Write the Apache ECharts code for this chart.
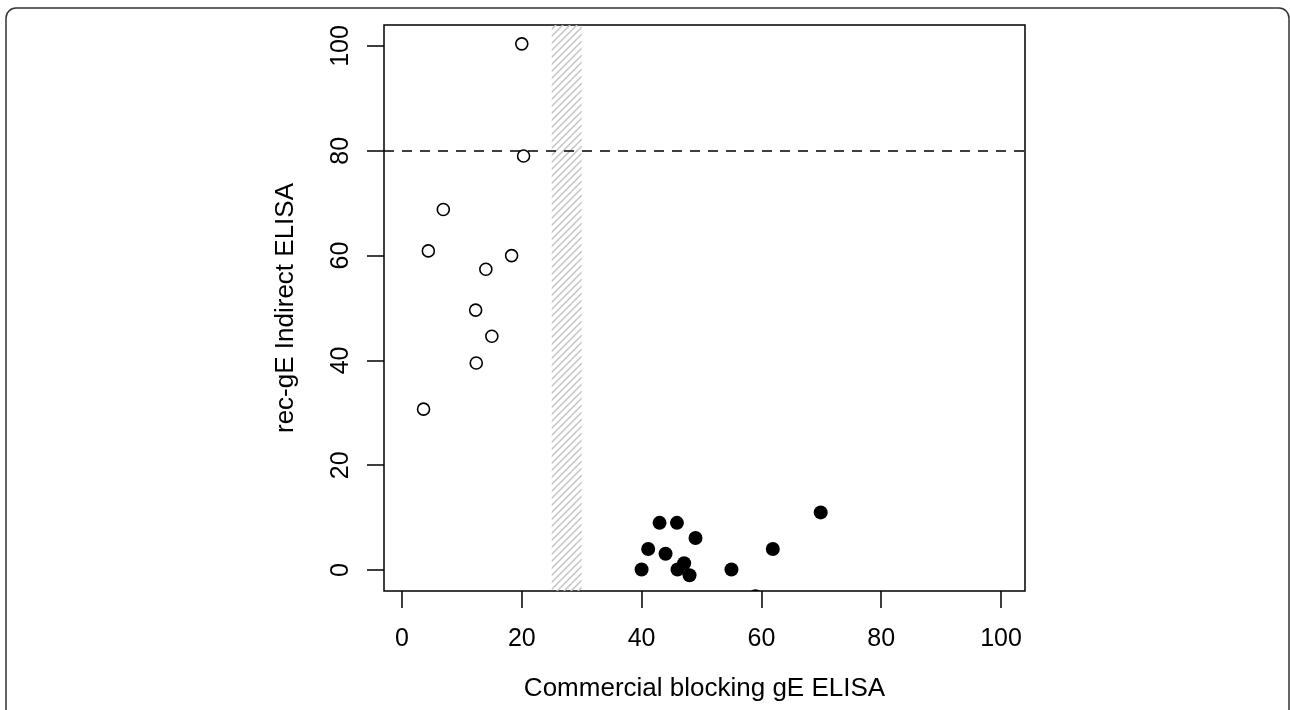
<!DOCTYPE html>
<html>
<head>
<meta charset="utf-8">
<script src="https://cdn.jsdelivr.net/npm/echarts@6/dist/echarts.min.js"></script>
<style>
  html, body { margin: 0; padding: 0; background: #fff; }
  #chart { width: 1290px; height: 710px; }
</style>
</head>
<body>
<div id="chart"></div>
<script>
// ---- data ----
const xTicks = [0, 20, 40, 60, 80, 100];
const yTicks = [0, 20, 40, 60, 80, 100];
const xTitle = 'Commercial blocking gE ELISA';
const yTitle = 'rec-gE Indirect ELISA';
// open circles (negative by blocking ELISA)
const openX = [20.0, 20.3, 6.9, 4.4, 18.3, 14.0, 12.3, 15.0, 12.4, 3.6];
const openY = [100.4, 79.0, 68.8, 60.9, 60.0, 57.4, 49.6, 44.6, 39.5, 30.7];
// filled circles
const filledX = [69.9, 43.0, 45.9, 49.0, 41.1, 44.0, 61.9, 40.0, 47.1, 46.0, 48.0, 55.0, 59.0];
const filledY = [11.0, 9.0, 9.0, 6.1, 4.0, 3.1, 4.0, 0.1, 1.3, 0.1, -1.0, 0.1, -5.0];
const cutoffY = 80;
const bandX = [25, 30];

const FONT = 'Liberation Sans, Arial, Helvetica, sans-serif';

// hatch pattern
const T = 7;
const pat = document.createElement('canvas');
pat.width = T; pat.height = T;
const pc = pat.getContext('2d');
pc.strokeStyle = '#c2c2c2';
pc.lineWidth = 1.4;
pc.beginPath();
pc.moveTo(-1, T + 1); pc.lineTo(T + 1, -1);
pc.moveTo(-1, 1); pc.lineTo(1, -1);
pc.moveTo(T - 1, T + 1); pc.lineTo(T + 1, T - 1);
pc.stroke();

const openData = openX.map((x, i) => [x, openY[i]]);
const filledData = filledX.map((x, i) => [x, filledY[i]]);

const chart = echarts.init(document.getElementById('chart'), null, { renderer: 'canvas', devicePixelRatio: 1 });
chart.setOption({
  animation: false,
  backgroundColor: '#fff',
  graphic: [{
    type: 'rect',
    silent: true,
    z: -10,
    shape: { x: 6, y: 8, width: 1283, height: 760, r: 10 },
    style: { fill: 'none', stroke: '#333', lineWidth: 1.5 }
  }],
  grid: {
    left: 384, right: 265, top: 25, bottom: 119,
    show: true, borderColor: '#000', borderWidth: 1.5, backgroundColor: 'transparent'
  },
  xAxis: {
    type: 'value', min: -3, max: 104,
    name: xTitle, nameLocation: 'middle', nameGap: 85,
    nameTextStyle: { fontFamily: FONT, fontSize: 26, color: '#000' },
    axisLine: { show: false, onZero: false },
    axisTick: { show: true, length: 17, customValues: xTicks, lineStyle: { color: '#000', width: 1.5 } },
    axisLabel: { customValues: xTicks, margin: 36, fontFamily: FONT, fontSize: 25, color: '#000' },
    splitLine: { show: false }
  },
  yAxis: {
    type: 'value', min: -4, max: 104,
    name: yTitle, nameLocation: 'middle', nameGap: 85, nameRotate: 90,
    nameTextStyle: { fontFamily: FONT, fontSize: 26, color: '#000' },
    axisLine: { show: false, onZero: false },
    axisTick: { show: true, length: 17, customValues: yTicks, lineStyle: { color: '#000', width: 1.5 } },
    axisLabel: { customValues: yTicks, rotate: 90, margin: 30, fontFamily: FONT, fontSize: 25, color: '#000' },
    splitLine: { show: false }
  },
  series: [
    {
      type: 'scatter',
      data: openData,
      symbol: 'circle',
      symbolSize: 12,
      itemStyle: { color: '#fff', borderColor: '#000', borderWidth: 1.6, opacity: 1 },
      z: 3,
      markArea: {
        silent: true,
        itemStyle: { color: { image: pat, repeat: 'repeat' }, borderWidth: 0 },
        data: [[{ xAxis: bandX[0] }, { xAxis: bandX[1] }]]
      },
      markLine: {
        silent: true,
        symbol: ['none', 'none'],
        label: { show: false },
        lineStyle: { type: [10, 8], color: '#000', width: 1.5 },
        data: [{ yAxis: cutoffY }]
      }
    },
    {
      type: 'custom',
      clip: true,
      data: filledData,
      z: 4,
      renderItem: function (params, api) {
        const p = api.coord([api.value(0), api.value(1)]);
        return { type: 'circle', shape: { cx: p[0], cy: p[1], r: 7 }, style: { fill: '#000' } };
      }
    }
  ]
});
</script>
</body>
</html>
